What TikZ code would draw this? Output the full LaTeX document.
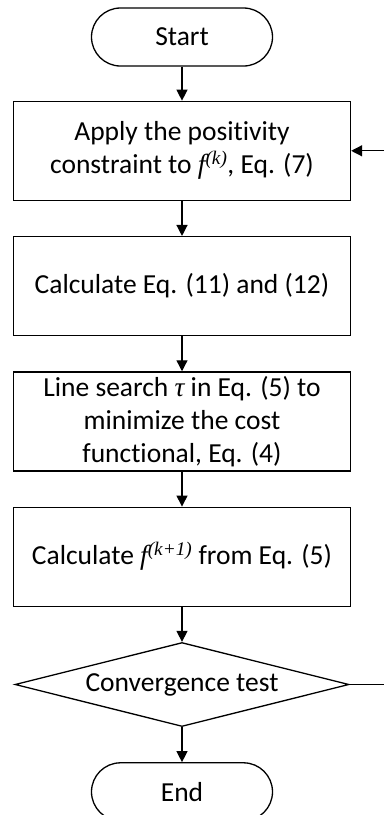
\documentclass[tikz,border=0pt]{standalone}
\usepackage{fontspec}
\setmainfont[Ligatures=NoCommon]{Carlito}
\newfontfamily\eqfont{Liberation Serif}
\usetikzlibrary{positioning,shapes.geometric,arrows.meta}

\newcommand{\fiter}[1]{{\eqfont\itshape f\textsuperscript{(#1)}}}

\tikzset{
  flowtext/.style={font=\fontsize{27.5}{33}\selectfont, align=center},
  block/.style={flowtext, draw, line width=1.3pt, minimum width=337pt, minimum height=99pt, inner sep=2pt},
  terminal/.style={flowtext, draw, line width=1.3pt, rounded corners=29pt, minimum width=181pt, minimum height=58pt},
  decision/.style={flowtext, draw, diamond, aspect=4, line width=1.3pt, minimum width=334pt, minimum height=84pt, inner sep=0pt},
  flow/.style={-{Triangle[width=11pt,length=11pt]}, line width=1.3pt}
}

\begin{document}
\begin{tikzpicture}[x=1pt, y=1pt, node distance=35pt]
    \useasboundingbox (0,0) rectangle (384,-815);
    \node[terminal] (start) at (182,-37) {Start};
    \node[block, below=34pt of start] (constrain) {Apply the positivity\\constraint to \fiter{k}, Eq. (7)};
    \node[block, below=of constrain] (grad) {Calculate Eq. (11) and (12)};
    \node[block, below=of grad] (search) {Line search {\eqfont\itshape τ} in Eq. (5) to\\minimize the cost\\functional, Eq. (4)};
    \node[block, below=of search] (update) {Calculate \fiter{k+1} from Eq. (5)};
    \node[decision, below=of update] (conv) {Convergence test};
    \node[terminal, below=of conv] (finish) {End};

    \coordinate (loopin) at (384,0 |- constrain.east);
    \coordinate (loopout) at (384,0 |- conv.east);

    \draw[flow] (start) -- (constrain);
    \draw[flow] (constrain) -- (grad);
    \draw[flow] (grad) -- (search);
    \draw[flow] (search) -- (update);
    \draw[flow] (update) -- (conv);
    \draw[flow] (conv) -- (finish);
    \draw[line width=1.3pt] (conv.east) -- (loopout);
    \draw[flow] (loopin) -- (constrain.east);
\end{tikzpicture}
\end{document}
